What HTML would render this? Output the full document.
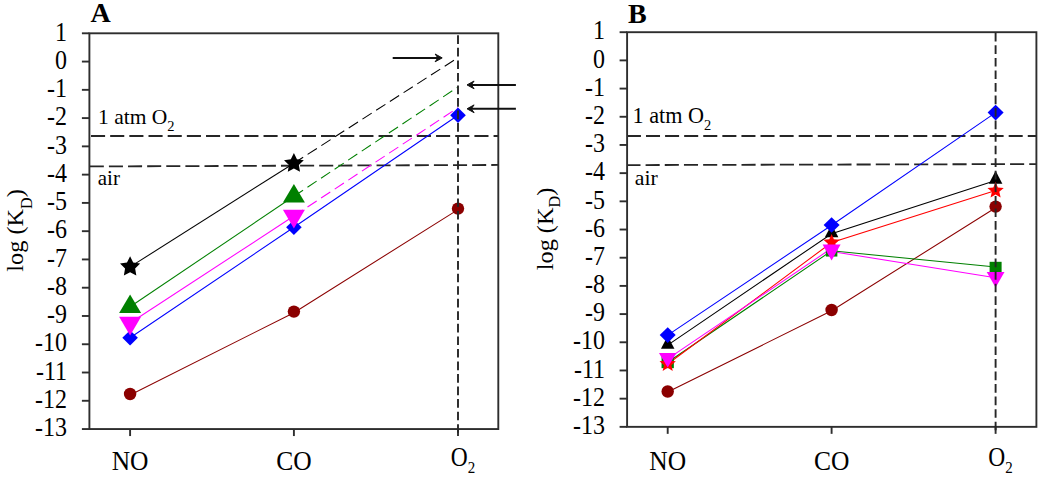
<!DOCTYPE html>
<html><head><meta charset="utf-8"><style>
html,body{margin:0;padding:0;background:#fff;width:1040px;height:479px;overflow:hidden;}
svg{display:block;font-family:"Liberation Serif",serif;}
</style></head><body>
<svg width="1040" height="479" viewBox="0 0 1040 479" font-family="Liberation Serif, serif" fill="#000">
<rect width="1040" height="479" fill="#fff"/>
<line x1="89.40" y1="136.00" x2="498.30" y2="136.00" stroke="#262626" stroke-width="1.8" stroke-dasharray="14.09 5.080" stroke-dashoffset="-1.60"/>
<line x1="89.40" y1="166.45" x2="498.30" y2="164.95" stroke="#262626" stroke-width="1.8" stroke-dasharray="14.05 5.067" stroke-dashoffset="-0.40"/>
<rect x="89.40" y="33.30" width="408.90" height="395.75" fill="none" stroke="#2e2e2e" stroke-width="1.9"/>
<line x1="81.90" y1="33.30" x2="89.40" y2="33.30" stroke="#2e2e2e" stroke-width="1.9"/>
<text transform="translate(67.00,40.50) scale(1,1.1)" font-size="24" text-anchor="end">1</text>
<line x1="81.90" y1="61.57" x2="89.40" y2="61.57" stroke="#2e2e2e" stroke-width="1.9"/>
<text transform="translate(67.00,68.77) scale(1,1.1)" font-size="24" text-anchor="end">0</text>
<line x1="81.90" y1="89.84" x2="89.40" y2="89.84" stroke="#2e2e2e" stroke-width="1.9"/>
<text transform="translate(67.00,97.04) scale(1,1.1)" font-size="24" text-anchor="end">-1</text>
<line x1="81.90" y1="118.10" x2="89.40" y2="118.10" stroke="#2e2e2e" stroke-width="1.9"/>
<text transform="translate(67.00,125.30) scale(1,1.1)" font-size="24" text-anchor="end">-2</text>
<line x1="81.90" y1="146.37" x2="89.40" y2="146.37" stroke="#2e2e2e" stroke-width="1.9"/>
<text transform="translate(67.00,153.57) scale(1,1.1)" font-size="24" text-anchor="end">-3</text>
<line x1="81.90" y1="174.64" x2="89.40" y2="174.64" stroke="#2e2e2e" stroke-width="1.9"/>
<text transform="translate(67.00,181.84) scale(1,1.1)" font-size="24" text-anchor="end">-4</text>
<line x1="81.90" y1="202.91" x2="89.40" y2="202.91" stroke="#2e2e2e" stroke-width="1.9"/>
<text transform="translate(67.00,210.11) scale(1,1.1)" font-size="24" text-anchor="end">-5</text>
<line x1="81.90" y1="231.18" x2="89.40" y2="231.18" stroke="#2e2e2e" stroke-width="1.9"/>
<text transform="translate(67.00,238.38) scale(1,1.1)" font-size="24" text-anchor="end">-6</text>
<line x1="81.90" y1="259.44" x2="89.40" y2="259.44" stroke="#2e2e2e" stroke-width="1.9"/>
<text transform="translate(67.00,266.64) scale(1,1.1)" font-size="24" text-anchor="end">-7</text>
<line x1="81.90" y1="287.71" x2="89.40" y2="287.71" stroke="#2e2e2e" stroke-width="1.9"/>
<text transform="translate(67.00,294.91) scale(1,1.1)" font-size="24" text-anchor="end">-8</text>
<line x1="81.90" y1="315.98" x2="89.40" y2="315.98" stroke="#2e2e2e" stroke-width="1.9"/>
<text transform="translate(67.00,323.18) scale(1,1.1)" font-size="24" text-anchor="end">-9</text>
<line x1="81.90" y1="344.25" x2="89.40" y2="344.25" stroke="#2e2e2e" stroke-width="1.9"/>
<text transform="translate(67.00,351.45) scale(1,1.1)" font-size="24" text-anchor="end">-10</text>
<line x1="81.90" y1="372.51" x2="89.40" y2="372.51" stroke="#2e2e2e" stroke-width="1.9"/>
<text transform="translate(67.00,379.71) scale(1,1.1)" font-size="24" text-anchor="end">-11</text>
<line x1="81.90" y1="400.78" x2="89.40" y2="400.78" stroke="#2e2e2e" stroke-width="1.9"/>
<text transform="translate(67.00,407.98) scale(1,1.1)" font-size="24" text-anchor="end">-12</text>
<line x1="81.90" y1="429.05" x2="89.40" y2="429.05" stroke="#2e2e2e" stroke-width="1.9"/>
<text transform="translate(67.00,436.25) scale(1,1.1)" font-size="24" text-anchor="end">-13</text>
<line x1="130.10" y1="429.05" x2="130.10" y2="436.05" stroke="#2e2e2e" stroke-width="1.9"/>
<line x1="293.90" y1="429.05" x2="293.90" y2="436.05" stroke="#2e2e2e" stroke-width="1.9"/>
<line x1="458.00" y1="429.05" x2="458.00" y2="436.05" stroke="#2e2e2e" stroke-width="1.9"/>
<text transform="translate(130.10,470.2) scale(1,1.06)" font-size="25.5" text-anchor="middle">NO</text>
<text transform="translate(293.90,470.2) scale(1,1.06)" font-size="25.5" text-anchor="middle">CO</text>
<text transform="translate(463.00,466) scale(1,1.12)" font-size="23.5" text-anchor="middle">O<tspan font-size="15" dy="6">2</tspan></text>
<text transform="translate(23.40,230.40) rotate(-90) scale(1.012,1)" font-size="24" text-anchor="middle">log (K<tspan font-size="16" dy="8.5">D</tspan><tspan dy="-8.5">)</tspan></text>
<text x="90.50" y="21.60" font-size="28" text-anchor="start" font-weight="bold">A</text>
<text x="98.00" y="124.40" font-size="21.5">1 atm O<tspan font-size="14.5" dy="6.5">2</tspan></text>
<text x="97.80" y="184.60" font-size="21" text-anchor="start" font-weight="normal">air</text>
<polyline points="130.10,395.00 293.90,312.70 458.00,209.60" fill="none" stroke="#8b0000" stroke-width="1.05"/>
<polyline points="130.10,337.80 293.90,227.30 458.00,115.20" fill="none" stroke="#0000ff" stroke-width="1.05"/>
<polyline points="130.10,323.00 293.90,216.00" fill="none" stroke="#ff00ff" stroke-width="1.05"/>
<line x1="293.90" y1="216.00" x2="458.00" y2="107.70" stroke="#ff00ff" stroke-width="1.05" stroke-dasharray="11 5.3" stroke-dashoffset="0"/>
<polyline points="130.10,306.80 293.90,196.30" fill="none" stroke="#008000" stroke-width="1.05"/>
<line x1="293.90" y1="196.30" x2="458.00" y2="87.00" stroke="#008000" stroke-width="1.05" stroke-dasharray="11 5.3" stroke-dashoffset="0"/>
<polyline points="130.10,266.90 293.90,163.20" fill="none" stroke="#000" stroke-width="1.05"/>
<line x1="293.90" y1="163.20" x2="457.50" y2="58.00" stroke="#000" stroke-width="1.05" stroke-dasharray="11 5.3" stroke-dashoffset="0"/>
<circle cx="130.10" cy="394.00" r="6.20" fill="#8b0000"/>
<circle cx="293.90" cy="311.60" r="6.20" fill="#8b0000"/>
<circle cx="458.00" cy="208.60" r="6.20" fill="#8b0000"/>
<polygon points="130.10,330.20 137.90,337.80 130.10,345.40 122.30,337.80" fill="#0000ff"/>
<polygon points="293.90,219.70 301.70,227.30 293.90,234.90 286.10,227.30" fill="#0000ff"/>
<polygon points="458.00,107.40 465.80,115.20 458.00,123.00 450.20,115.20" fill="#0000ff"/>
<polygon points="130.10,294.47 141.10,312.97 119.10,312.97" fill="#008000"/>
<polygon points="293.90,183.97 304.90,202.47 282.90,202.47" fill="#008000"/>
<polygon points="119.10,316.73 141.10,316.73 130.10,335.53" fill="#ff00ff"/>
<polygon points="282.90,209.73 304.90,209.73 293.90,228.53" fill="#ff00ff"/>
<polygon points="130.10,256.30 133.22,262.61 140.18,263.62 135.14,268.54 136.33,275.48 130.10,272.20 123.87,275.48 125.06,268.54 120.02,263.62 126.98,262.61" fill="#000"/>
<polygon points="293.90,153.00 296.96,159.19 303.79,160.19 298.85,165.01 300.01,171.81 293.90,168.60 287.79,171.81 288.95,165.01 284.01,160.19 290.84,159.19" fill="#000"/>
<line x1="458.00" y1="35.30" x2="458.00" y2="436.05" stroke="#262626" stroke-width="1.9" stroke-dasharray="8.656 3.889"/>
<line x1="392.70" y1="57.90" x2="438.70" y2="57.90" stroke="#111" stroke-width="2"/>
<polygon points="442.20,57.90 435.10,54.00 437.90,57.90 435.10,61.80" fill="#111" stroke="#111" stroke-width="1" stroke-linejoin="round"/>
<line x1="515.90" y1="84.90" x2="470.50" y2="84.90" stroke="#111" stroke-width="2"/>
<polygon points="467.00,84.90 474.10,81.00 471.30,84.90 474.10,88.80" fill="#111" stroke="#111" stroke-width="1" stroke-linejoin="round"/>
<line x1="515.90" y1="108.80" x2="470.50" y2="108.80" stroke="#111" stroke-width="2"/>
<polygon points="467.00,108.80 474.10,104.90 471.30,108.80 474.10,112.70" fill="#111" stroke="#111" stroke-width="1" stroke-linejoin="round"/>
<line x1="627.10" y1="136.00" x2="1036.40" y2="136.00" stroke="#262626" stroke-width="1.8" stroke-dasharray="14.03 5.059" stroke-dashoffset="0.20"/>
<line x1="627.10" y1="165.10" x2="1036.40" y2="164.05" stroke="#262626" stroke-width="1.8" stroke-dasharray="14.10 5.083" stroke-dashoffset="0.70"/>
<rect x="627.10" y="32.20" width="409.30" height="394.65" fill="none" stroke="#2e2e2e" stroke-width="1.9"/>
<line x1="619.60" y1="32.20" x2="627.10" y2="32.20" stroke="#2e2e2e" stroke-width="1.9"/>
<text transform="translate(605.00,39.40) scale(1,1.1)" font-size="24" text-anchor="end">1</text>
<line x1="619.60" y1="60.39" x2="627.10" y2="60.39" stroke="#2e2e2e" stroke-width="1.9"/>
<text transform="translate(605.00,67.59) scale(1,1.1)" font-size="24" text-anchor="end">0</text>
<line x1="619.60" y1="88.58" x2="627.10" y2="88.58" stroke="#2e2e2e" stroke-width="1.9"/>
<text transform="translate(605.00,95.78) scale(1,1.1)" font-size="24" text-anchor="end">-1</text>
<line x1="619.60" y1="116.77" x2="627.10" y2="116.77" stroke="#2e2e2e" stroke-width="1.9"/>
<text transform="translate(605.00,123.97) scale(1,1.1)" font-size="24" text-anchor="end">-2</text>
<line x1="619.60" y1="144.96" x2="627.10" y2="144.96" stroke="#2e2e2e" stroke-width="1.9"/>
<text transform="translate(605.00,152.16) scale(1,1.1)" font-size="24" text-anchor="end">-3</text>
<line x1="619.60" y1="173.15" x2="627.10" y2="173.15" stroke="#2e2e2e" stroke-width="1.9"/>
<text transform="translate(605.00,180.35) scale(1,1.1)" font-size="24" text-anchor="end">-4</text>
<line x1="619.60" y1="201.34" x2="627.10" y2="201.34" stroke="#2e2e2e" stroke-width="1.9"/>
<text transform="translate(605.00,208.54) scale(1,1.1)" font-size="24" text-anchor="end">-5</text>
<line x1="619.60" y1="229.53" x2="627.10" y2="229.53" stroke="#2e2e2e" stroke-width="1.9"/>
<text transform="translate(605.00,236.73) scale(1,1.1)" font-size="24" text-anchor="end">-6</text>
<line x1="619.60" y1="257.71" x2="627.10" y2="257.71" stroke="#2e2e2e" stroke-width="1.9"/>
<text transform="translate(605.00,264.91) scale(1,1.1)" font-size="24" text-anchor="end">-7</text>
<line x1="619.60" y1="285.90" x2="627.10" y2="285.90" stroke="#2e2e2e" stroke-width="1.9"/>
<text transform="translate(605.00,293.10) scale(1,1.1)" font-size="24" text-anchor="end">-8</text>
<line x1="619.60" y1="314.09" x2="627.10" y2="314.09" stroke="#2e2e2e" stroke-width="1.9"/>
<text transform="translate(605.00,321.29) scale(1,1.1)" font-size="24" text-anchor="end">-9</text>
<line x1="619.60" y1="342.28" x2="627.10" y2="342.28" stroke="#2e2e2e" stroke-width="1.9"/>
<text transform="translate(605.00,349.48) scale(1,1.1)" font-size="24" text-anchor="end">-10</text>
<line x1="619.60" y1="370.47" x2="627.10" y2="370.47" stroke="#2e2e2e" stroke-width="1.9"/>
<text transform="translate(605.00,377.67) scale(1,1.1)" font-size="24" text-anchor="end">-11</text>
<line x1="619.60" y1="398.66" x2="627.10" y2="398.66" stroke="#2e2e2e" stroke-width="1.9"/>
<text transform="translate(605.00,405.86) scale(1,1.1)" font-size="24" text-anchor="end">-12</text>
<line x1="619.60" y1="426.85" x2="627.10" y2="426.85" stroke="#2e2e2e" stroke-width="1.9"/>
<text transform="translate(605.00,434.05) scale(1,1.1)" font-size="24" text-anchor="end">-13</text>
<line x1="667.70" y1="426.85" x2="667.70" y2="433.85" stroke="#2e2e2e" stroke-width="1.9"/>
<line x1="831.60" y1="426.85" x2="831.60" y2="433.85" stroke="#2e2e2e" stroke-width="1.9"/>
<line x1="995.60" y1="426.85" x2="995.60" y2="433.85" stroke="#2e2e2e" stroke-width="1.9"/>
<text transform="translate(667.70,470.2) scale(1,1.06)" font-size="25.5" text-anchor="middle">NO</text>
<text transform="translate(831.60,470.2) scale(1,1.06)" font-size="25.5" text-anchor="middle">CO</text>
<text transform="translate(1000.60,466) scale(1,1.12)" font-size="23.5" text-anchor="middle">O<tspan font-size="15" dy="6">2</tspan></text>
<text transform="translate(553.40,229.00) rotate(-90) scale(1.012,1)" font-size="24" text-anchor="middle">log (K<tspan font-size="16" dy="7.0">D</tspan><tspan dy="-7.0">)</tspan></text>
<text x="628.00" y="22.60" font-size="28" text-anchor="start" font-weight="bold">B</text>
<text x="632.60" y="123.20" font-size="22.2">1 atm O<tspan font-size="14.5" dy="6.5">2</tspan></text>
<text x="634.80" y="184.80" font-size="21.8" text-anchor="start" font-weight="normal">air</text>
<polyline points="667.70,392.00 831.60,310.80 995.60,207.70" fill="none" stroke="#8b0000" stroke-width="1.05"/>
<polyline points="667.70,345.10 831.60,233.70 995.60,180.40" fill="none" stroke="#000" stroke-width="1.05"/>
<polyline points="667.70,362.20 831.60,250.80 995.60,267.10" fill="none" stroke="#008000" stroke-width="1.05"/>
<polyline points="667.70,364.00 831.60,242.50 995.60,190.60" fill="none" stroke="#ff0000" stroke-width="1.05"/>
<polyline points="667.70,358.90 831.60,248.30" fill="none" stroke="#ff00ff" stroke-width="1.05"/>
<polyline points="831.60,251.50 995.60,277.80" fill="none" stroke="#ff00ff" stroke-width="1.05"/>
<polyline points="667.70,335.10 831.60,225.20 995.60,112.60" fill="none" stroke="#0000ff" stroke-width="1.05"/>
<circle cx="667.70" cy="391.50" r="6.20" fill="#8b0000"/>
<circle cx="831.60" cy="310.00" r="6.20" fill="#8b0000"/>
<circle cx="995.60" cy="206.60" r="6.20" fill="#8b0000"/>
<polygon points="667.70,335.97 674.45,348.77 660.95,348.77" fill="#000"/>
<polygon points="831.60,224.47 838.35,237.27 824.85,237.27" fill="#000"/>
<polygon points="995.60,170.87 1002.35,183.67 988.85,183.67" fill="#000"/>
<rect x="661.55" y="355.85" width="12.30" height="12.30" fill="#008000"/>
<rect x="825.85" y="245.05" width="11.50" height="11.50" fill="#008000"/>
<rect x="989.60" y="261.80" width="12.00" height="12.00" fill="#008000"/>
<polygon points="667.70,355.40 669.97,360.87 675.88,361.34 671.38,365.20 672.75,370.96 667.70,367.87 662.65,370.96 664.02,365.20 659.52,361.34 665.43,360.87" fill="#ff0000"/>
<polygon points="831.60,233.90 833.87,239.37 839.78,239.84 835.28,243.70 836.65,249.46 831.60,246.37 826.55,249.46 827.92,243.70 823.42,239.84 829.33,239.37" fill="#ff0000"/>
<polygon points="995.60,182.00 997.87,187.47 1003.78,187.94 999.28,191.80 1000.65,197.56 995.60,194.47 990.55,197.56 991.92,191.80 987.42,187.94 993.33,187.47" fill="#ff0000"/>
<polygon points="658.95,353.07 676.45,353.07 667.70,367.57" fill="#ff00ff"/>
<polygon points="822.60,244.57 840.60,244.57 831.60,260.57" fill="#ff00ff"/>
<polygon points="986.70,272.07 1004.50,272.07 995.60,287.47" fill="#ff00ff"/>
<polygon points="667.70,327.30 675.70,335.10 667.70,342.90 659.70,335.10" fill="#0000ff"/>
<polygon points="831.60,217.20 839.60,225.00 831.60,232.80 823.60,225.00" fill="#0000ff"/>
<polygon points="995.60,104.80 1003.60,112.60 995.60,120.40 987.60,112.60" fill="#0000ff"/>
<line x1="995.60" y1="32.80" x2="995.60" y2="433.85" stroke="#262626" stroke-width="1.9" stroke-dasharray="8.656 3.889"/>
</svg>
</body></html>
